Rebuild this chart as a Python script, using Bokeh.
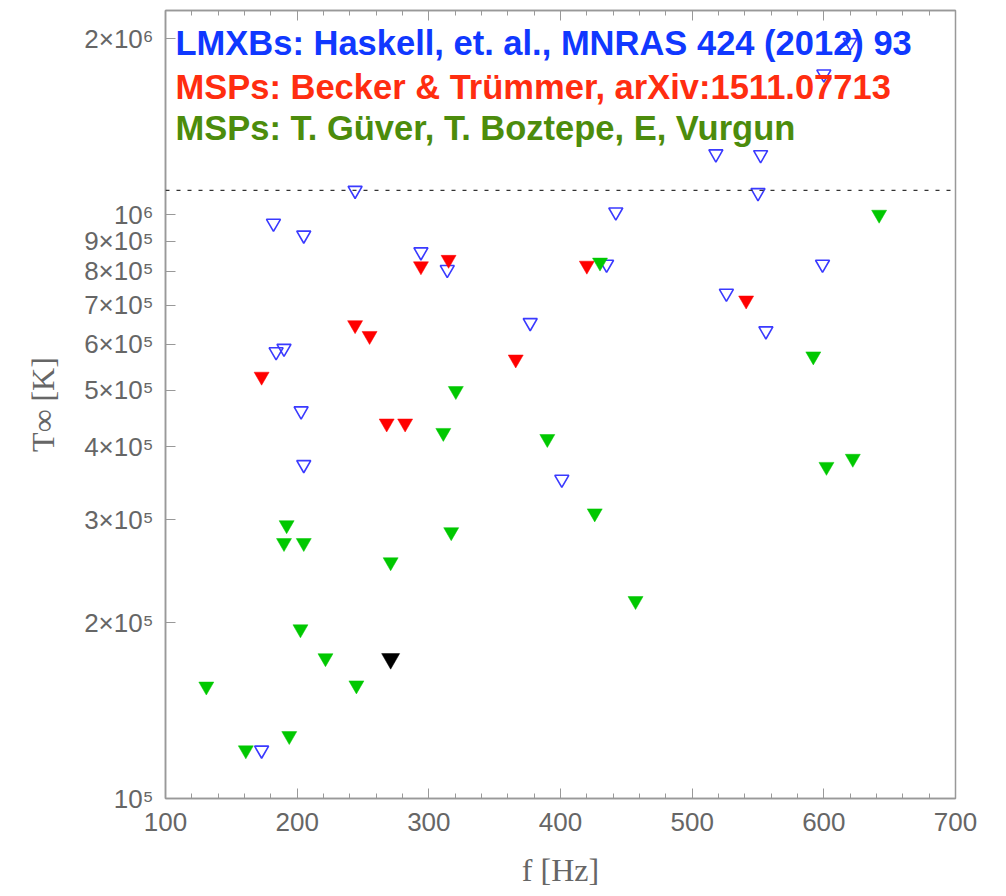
from bokeh.plotting import figure
from bokeh.models import (FixedTicker, LinearAxis, Span, Label)
from bokeh.embed import file_html
from bokeh.resources import INLINE

# ---- data ----
lmxb_f = [244, 182, 205, 294, 184, 190, 203, 205, 442, 314, 435, 377, 401,
          620, 600, 518, 552, 550, 599, 526, 556, 173]
lmxb_T = [1.10e6, 9.66e5, 9.22e5, 8.63e5, 5.82e5, 5.90e5, 4.61e5, 3.73e5, 1.01e6,
          8.05e5, 8.22e5, 6.53e5, 3.52e5, 1.97e6, 1.74e6, 1.27e6, 1.266e6, 1.09e6,
          8.22e5, 7.33e5, 6.32e5, 1.21e5]

becker_f = [294, 244, 255, 173, 268, 282, 315, 420, 366, 541]
becker_T = [8.16e5, 6.47e5, 6.20e5, 5.28e5, 4.39e5, 4.39e5, 8.37e5, 8.18e5, 5.65e5, 7.13e5]

guver_f = [430, 320.5, 311, 390, 642, 592, 426, 317, 457, 602, 622, 192, 190, 205,
           271, 202.5, 221.5, 131, 245, 194, 161]
guver_T = [8.28e5, 4.99e5, 4.23e5, 4.13e5, 1.0e6, 5.72e5, 3.08e5, 2.86e5, 2.18e5,
           3.70e5, 3.82e5, 2.94e5, 2.74e5, 2.74e5, 2.54e5, 1.95e5, 1.74e5, 1.556e5,
           1.563e5, 1.28e5, 1.21e5]

black_f = [271]
black_T = [1.735e5]

T_limit = 1.1e6

x_ticks = [100, 200, 300, 400, 500, 600, 700]
x_minor = list(range(100, 701, 20))
y_ticks = [1e5, 2e5, 3e5, 4e5, 5e5, 6e5, 7e5, 8e5, 9e5, 1e6, 2e6]
y_tick_labels = ["10⁵", "2×10⁵", "3×10⁵", "4×10⁵", "5×10⁵", "6×10⁵", "7×10⁵",
                 "8×10⁵", "9×10⁵", "10⁶", "2×10⁶"]

legend_texts = ["LMXBs: Haskell, et. al., MNRAS 424 (2012) 93",
                "MSPs: Becker & Trümmer, arXiv:1511.07713",
                "MSPs: T. Güver, T. Boztepe, E, Vurgun"]
legend_colors = ["#1038ff", "#ff2d10", "#4c8c0c"]

GRAY = "#999999"
LABEL_GRAY = "#666666"

p = figure(width=1000, height=890, x_range=(100, 700), y_range=(1e5, 2.236e6),
           y_axis_type="log", output_backend="svg", toolbar_location=None,
           min_border_left=165, min_border_right=45, min_border_top=10,
           min_border_bottom=91)
p.xgrid.visible = False
p.ygrid.visible = False
p.outline_line_color = GRAY
p.outline_line_width = 1.5
p.background_fill_color = "white"
p.border_fill_color = "white"

# x axis
xa = p.xaxis[0]
xa.ticker = FixedTicker(ticks=x_ticks, minor_ticks=x_minor)
xa.axis_line_color = GRAY
xa.axis_line_width = 1.5
xa.major_tick_line_color = GRAY
xa.minor_tick_line_color = GRAY
xa.major_tick_in = 10
xa.major_tick_out = 0
xa.minor_tick_in = 5
xa.minor_tick_out = 0
xa.major_label_text_font = "Liberation Sans"
xa.major_label_text_font_size = "26px"
xa.major_label_text_color = LABEL_GRAY
xa.major_label_standoff = 14
xa.axis_label = "f [Hz]"
xa.axis_label_text_font = "Liberation Serif"
xa.axis_label_text_font_style = "normal"
xa.axis_label_text_font_size = "32px"
xa.axis_label_text_color = LABEL_GRAY
xa.axis_label_standoff = 18

# top axis (ticks only, no labels)
ta = LinearAxis(ticker=FixedTicker(ticks=x_ticks, minor_ticks=x_minor))
ta.axis_line_color = GRAY
ta.axis_line_width = 1.5
ta.major_tick_line_color = GRAY
ta.minor_tick_line_color = GRAY
ta.major_tick_in = 10
ta.major_tick_out = 0
ta.minor_tick_in = 5
ta.minor_tick_out = 0
ta.major_label_overrides = {t: "" for t in x_ticks}
ta.major_label_standoff = 0
p.add_layout(ta, "above")

# y axis
ya = p.yaxis[0]
ya.ticker = FixedTicker(ticks=y_ticks, minor_ticks=[])
ya.major_label_overrides = {t: s for t, s in zip(y_ticks, y_tick_labels)}
ya.axis_line_color = GRAY
ya.axis_line_width = 1.5
ya.major_tick_line_color = GRAY
ya.major_tick_in = 10
ya.major_tick_out = 0
ya.minor_tick_line_color = None
ya.major_label_text_font = "Liberation Sans"
ya.major_label_text_font_size = "26px"
ya.major_label_text_color = LABEL_GRAY
ya.major_label_standoff = 12
ya.axis_label = "T∞ [K]"
ya.axis_label_text_font = "Liberation Serif"
ya.axis_label_text_font_style = "normal"
ya.axis_label_text_font_size = "32px"
ya.axis_label_text_color = LABEL_GRAY
ya.axis_label_standoff = 20

# dashed limit line
p.add_layout(Span(location=T_limit, dimension="width", line_color="#333333",
                  line_width=1.2, line_dash="4 7"))

# markers
p.scatter(lmxb_f, lmxb_T, marker="inverted_triangle", size=14,
          line_color="#3a3aff", line_width=1.6, fill_alpha=0)
p.scatter(becker_f, becker_T, marker="inverted_triangle", size=15,
          line_color="#ff0000", fill_color="#ff0000", line_width=0.5)
p.scatter(guver_f, guver_T, marker="inverted_triangle", size=15,
          line_color="#00c800", fill_color="#00c800", line_width=0.5)
p.scatter(black_f, black_T, marker="inverted_triangle", size=18,
          line_color="#000000", fill_color="#000000", line_width=0.5)

# legend text
baselines = [756, 712, 671]
for txt, col, yb in zip(legend_texts, legend_colors, baselines):
    p.add_layout(Label(x=10, y=yb, x_units="screen", y_units="screen", text=txt,
                       text_color=col, text_font="Liberation Sans",
                       text_font_style="bold", text_font_size="34.5px",
                       text_baseline="alphabetic", text_align="left"))

open("out.html", "w").write(file_html(p, INLINE))
